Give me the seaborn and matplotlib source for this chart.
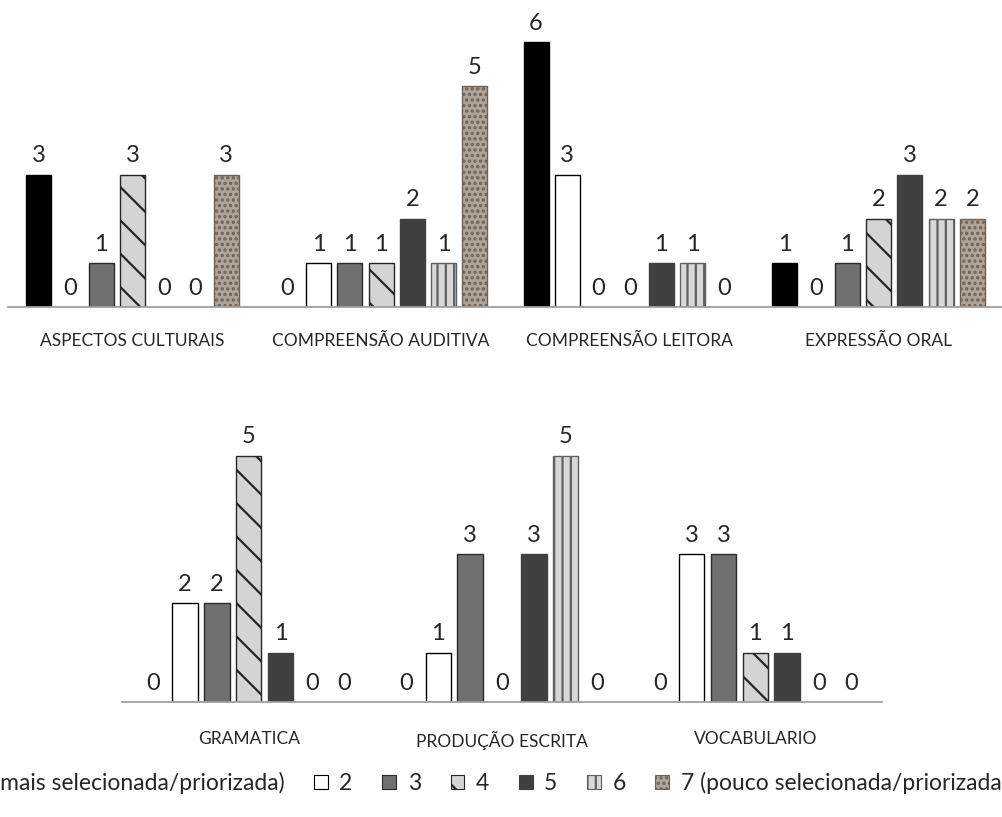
import seaborn as sns
import matplotlib.pyplot as plt
import pandas as pd
from matplotlib.patches import Patch

# series (priority rank) and categories
series = ['1 (mais selecionada/priorizada)', '2', '3', '4', '5', '6',
          '7 (pouco selecionada/priorizada)']

top_categories = ['ASPECTOS CULTURAIS', 'COMPREENSÃO AUDITIVA',
                  'COMPREENSÃO LEITORA', 'EXPRESSÃO ORAL']
bottom_categories = ['GRAMATICA', 'PRODUÇÃO ESCRITA', 'VOCABULARIO']

# counts per category, ranks 1..7
aspectos_culturais = [3, 0, 1, 3, 0, 0, 3]
compreensao_auditiva = [0, 1, 1, 1, 2, 1, 5]
compreensao_leitora = [6, 3, 0, 0, 1, 1, 0]
expressao_oral = [1, 0, 1, 2, 3, 2, 2]
gramatica = [0, 2, 2, 5, 1, 0, 0]
producao_escrita = [0, 1, 3, 0, 3, 5, 0]
vocabulario = [0, 3, 3, 1, 1, 0, 0]

top_values = [aspectos_culturais, compreensao_auditiva, compreensao_leitora, expressao_oral]
bottom_values = [gramatica, producao_escrita, vocabulario]


def long_table(cats, vals):
    rows = []
    for c, v in zip(cats, vals):
        for s, n in zip(series, v):
            rows.append({'categoria': c, 'serie': s, 'valor': n})
    return pd.DataFrame(rows)


# bar styles per rank
styles = [
    dict(facecolor='black', edgecolor='black', hatch=None),
    dict(facecolor='white', edgecolor='black', hatch=None),
    dict(facecolor='#707070', edgecolor='#2a2a2a', hatch=None),
    dict(facecolor='#d4d4d4', edgecolor='#262626', hatch='\\'),
    dict(facecolor='#404040', edgecolor='#404040', hatch=None),
    dict(facecolor='#d8d8d8', edgecolor='#606060', hatch='||'),
    dict(facecolor='#b0a498', edgecolor='#6e6258', hatch='...'),
]

sns.set_style('white')
plt.rcParams['font.family'] = ['Lato', 'DejaVu Sans']
plt.rcParams['hatch.linewidth'] = 1.6

fig = plt.figure(figsize=(10.03, 8.17), dpi=100)
ax_top = fig.add_axes([0.008, 0.6242, 0.992, 0.3513])
ax_bot = fig.add_axes([0.1216, 0.1408, 0.7577, 0.3378])


def draw(ax, cats, vals, ymax, pad):
    df = long_table(cats, vals)
    sns.barplot(data=df, x='categoria', y='valor', hue='serie',
                order=cats, hue_order=series, width=0.88, gap=0.2,
                palette=[s['facecolor'] for s in styles], saturation=1,
                legend=False, ax=ax)
    for st, cont in zip(styles, ax.containers):
        for bar in cont:
            bar.set_facecolor(st['facecolor'])
            bar.set_edgecolor(st['edgecolor'])
            bar.set_linewidth(1.0 if bar.get_height() > 0 else 0)
            if st['hatch']:
                bar.set_hatch(st['hatch'])
        ax.bar_label(cont, padding=6, fontsize=17)
    ax.set_ylim(0, ymax)
    ax.set_xlabel('')
    ax.set_ylabel('')
    ax.set_yticks([])
    ax.tick_params(axis='x', length=0, pad=pad, labelsize=12.5)
    for side in ['top', 'right', 'left']:
        ax.spines[side].set_visible(False)
    ax.spines['bottom'].set_color('#a0a0a0')
    ax.spines['bottom'].set_linewidth(1.3)


draw(ax_top, top_categories, top_values, 6.5, 19)
draw(ax_bot, bottom_categories, bottom_values, 5.6, 21)

# legend row is wider than the figure, as in the original export
handles = [Patch(facecolor=s['facecolor'], edgecolor=s['edgecolor'],
                 hatch=s['hatch'], linewidth=0.8) for s in styles]
fig.legend(handles, series, loc='center', bbox_to_anchor=(0.477, 1 - 783 / 817),
           ncol=7, frameon=False, fontsize=16.5, handlelength=0.6, handleheight=0.6,
           handletextpad=0.5, columnspacing=1.3)

fig.savefig('out.png', dpi=100)
